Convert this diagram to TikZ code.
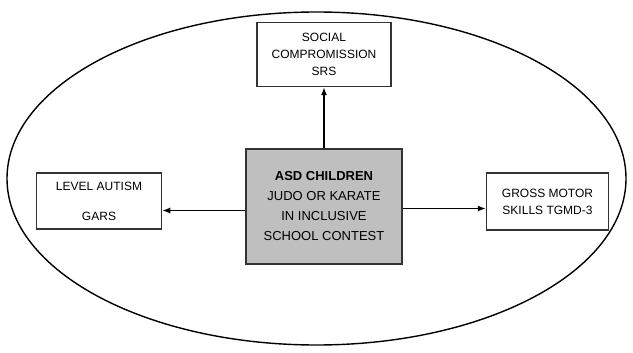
\documentclass[tikz,border=0pt]{standalone}
\usepackage{fontspec}
\setmainfont{Liberation Sans}
\usepackage{tikz}
\usetikzlibrary{arrows.meta,positioning}

\begin{document}
\begin{tikzpicture}
[->,>={Latex[length=8pt,width=6pt]},x=1pt,y=-1pt,
line width=1.4pt,
box node/.style={rectangle, draw=black!80, line width=1.5pt, align=center, inner sep=2pt,
  font=\fontsize{12}{17}\selectfont},
main node/.style={box node, fill=black!25, minimum width=156pt, minimum height=115pt,
  font=\fontsize{13}{20}\selectfont}]

  \useasboundingbox (0,0) rectangle (633,353);
  \draw[-, line width=1.4pt] (316.5,178.5) ellipse [x radius=309.5pt, y radius=166.5pt];

  \node[main node] (asd) at (324,206.5) {\textbf{ASD CHILDREN}\\JUDO OR KARATE\\IN INCLUSIVE\\SCHOOL CONTEST};
  \node[box node, minimum width=134pt, minimum height=64pt] (srs) [above=61pt of asd] {SOCIAL\\COMPROMISSION\\SRS};
  \node[box node, minimum width=125pt, minimum height=56pt, yshift=5.5pt] (gars) [left=83pt of asd] {LEVEL AUTISM\\[13pt]GARS};
  \node[box node, minimum width=122pt, minimum height=57pt, yshift=5pt] (tgmd) [right=83pt of asd] {GROSS MOTOR\\SKILLS TGMD-3};

  \draw (asd) -- (srs);
  \draw ([yshift=-4pt]asd.west) -- ([yshift=-4pt]asd.west -| gars.east);
  \draw ([yshift=-2pt]asd.east) -- ([yshift=-2pt]asd.east -| tgmd.west);

\end{tikzpicture}
\end{document}
